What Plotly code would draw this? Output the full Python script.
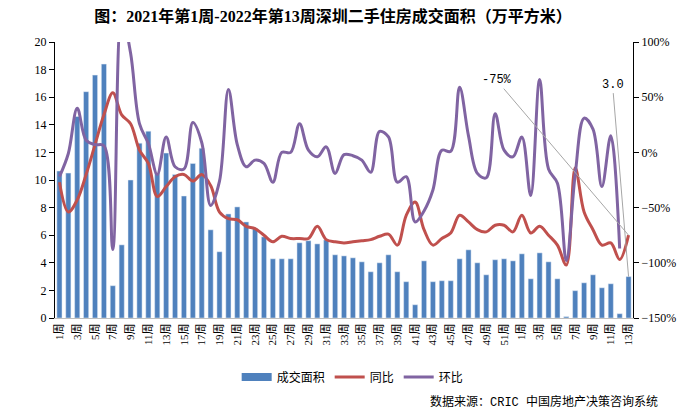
import plotly.graph_objects as go

week_labels = [
    "1周", "2周", "3周", "4周", "5周", "6周", "7周", "8周", "9周", "10周",
    "11周", "12周", "13周", "14周", "15周", "16周", "17周", "18周", "19周", "20周",
    "21周", "22周", "23周", "24周", "25周", "26周", "27周", "28周", "29周", "30周",
    "31周", "32周", "33周", "34周", "35周", "36周", "37周", "38周", "39周", "40周",
    "41周", "42周", "43周", "44周", "45周", "46周", "47周", "48周", "49周", "50周",
    "51周", "52周",
    "1周", "2周", "3周", "4周", "5周", "6周", "7周", "8周", "9周", "10周",
    "11周", "12周", "13周",
]

area = [
    10.65, 10.5, 14.6, 16.4, 17.6, 18.4, 2.34, 5.3, 10.0, 12.67,
    13.54, 10.5, 11.95, 10.4, 8.84, 11.2, 12.3, 6.39, 4.8, 7.54,
    8.05, 6.96, 6.5, 5.88, 4.29, 4.29, 4.29, 5.45, 5.6, 5.37,
    5.66, 4.58, 4.5, 4.36, 4.07, 3.35, 4.0, 4.58, 3.35, 2.63,
    0.96, 4.14, 2.63, 2.7, 2.7, 4.29, 4.94, 4.0, 3.13, 4.22,
    4.29, 4.14,
    4.65, 2.84, 4.72, 4.07, 2.84, 0.1, 1.98, 2.55, 3.13, 2.19,
    2.48, 0.31, 3.0,
]

yoy = [
    -27, -54, -43, -20, 7, 34, 54, 34, 26, 2,
    -10, -40, -31, -22, -20, -26, -20, -30, -54, -60,
    -61, -67, -69, -75, -81, -76, -78, -78, -78, -67,
    -79, -81, -82, -81, -80, -79, -76, -74, -84, -57,
    -45, -70, -84, -78, -73, -57, -63, -70, -72, -66,
    -66, -72,
    -57, -73, -67, -75, -84, -102, -14, -54, -70, -84,
    -82, -97, -75,
]

mom = [
    -22, -1, 40, 11, 7, 6, -88, 125, 90, 26,
    8, -20, 14, -13, -15, 27, 9, -48, -26, 57,
    7, -13, -7, -10, -27, 0, 0, 26, 2, -4,
    5, -19, -2, -3, -7, -18, 19, 14, -27, -22,
    -63, -53, -34, 2, 1, 59, 15, -19, -23, 35,
    2, -4,
    14, -39, 66, -15, -28, -98, -20, 31, 21, -31,
    15, -87, None,
]

x = list(range(len(area)))

BLUE = "#4F81BD"
RED = "#C0504D"
PURPLE = "#8064A2"
SERIF = "Liberation Serif, Noto Sans CJK SC"
CJK = "Noto Sans CJK SC"

fig = go.Figure()
fig.add_trace(go.Bar(x=x, y=area, name="成交面积", marker_color=BLUE,
                     width=0.58, showlegend=False))
fig.add_trace(go.Scatter(x=[None], y=[None], mode="lines", name="成交面积",
                         line=dict(color=BLUE, width=8)))
fig.add_trace(go.Scatter(x=x, y=yoy, name="同比", mode="lines", yaxis="y2",
                         line=dict(color=RED, width=3, shape="spline", smoothing=1.0)))
fig.add_trace(go.Scatter(x=x, y=mom, name="环比", mode="lines", yaxis="y2",
                         line=dict(color=PURPLE, width=3, shape="spline", smoothing=1.0),
                         connectgaps=False))

tickvals = x[::2]
ticktext = week_labels[::2]

fig.update_layout(
    width=681, height=409,
    margin=dict(l=47, r=56, t=34, b=99, autoexpand=False),
    plot_bgcolor="white", paper_bgcolor="white",
    title=dict(text="<b>图：2021年第1周-2022年第13周深圳二手住房成交面积（万平方米）</b>",
               x=0.481, xref="paper", y=0.979, yanchor="middle", xanchor="center",
               font=dict(family=SERIF, size=16, color="black"), automargin=False),
    xaxis=dict(range=[-0.5, len(x) - 0.5], tickvals=tickvals, ticktext=ticktext,
               tickangle=-90, showgrid=False, zeroline=False, automargin=False,
               showline=True, linecolor="#BFBFBF", linewidth=1,
               tickfont=dict(family=SERIF, size=11, color="black")),
    yaxis=dict(range=[0, 20], dtick=2, showgrid=False, zeroline=False, automargin=False,
               showline=True, linecolor="black", linewidth=1,
               ticks="outside", ticklen=5, tickcolor="black",
               tickfont=dict(family=SERIF, size=12, color="black")),
    yaxis2=dict(range=[-150, 100], dtick=50, ticksuffix="%", overlaying="y", side="right",
                showgrid=False, zeroline=False, automargin=False,
                showline=True, linecolor="black", linewidth=1,
                ticks="outside", ticklen=5, tickcolor="black",
                tickfont=dict(family=SERIF, size=12, color="black")),
    legend=dict(orientation="h", x=0.515, xanchor="center", y=-0.214, yanchor="middle",
                font=dict(family=CJK, size=12, color="black"), itemwidth=30,
                traceorder="normal"),
    bargap=0.4,
)

fig.add_annotation(x=x[-1], y=yoy[-1], xref="x", yref="y2", text="-75%",
                   showarrow=True, arrowhead=0, arrowwidth=1, arrowcolor="#A6A6A6",
                   ax=-132, ay=-155, font=dict(family="Liberation Mono", size=12, color="black"))
fig.add_annotation(x=x[-1], y=area[-1], xref="x", yref="y", text="3.0",
                   showarrow=True, arrowhead=0, arrowwidth=1, arrowcolor="#A6A6A6",
                   ax=-16, ay=-192, font=dict(family="Liberation Mono", size=12, color="black"))
fig.add_annotation(x=1.047, y=-0.304, xref="paper", yref="paper", xanchor="right",
                   yanchor="middle", showarrow=False,
                   text="数据来源：CRIC 中国房地产决策咨询系统",
                   font=dict(family="Liberation Mono, Noto Sans CJK SC", size=12, color="black"))

fig.write_html("out.html")
